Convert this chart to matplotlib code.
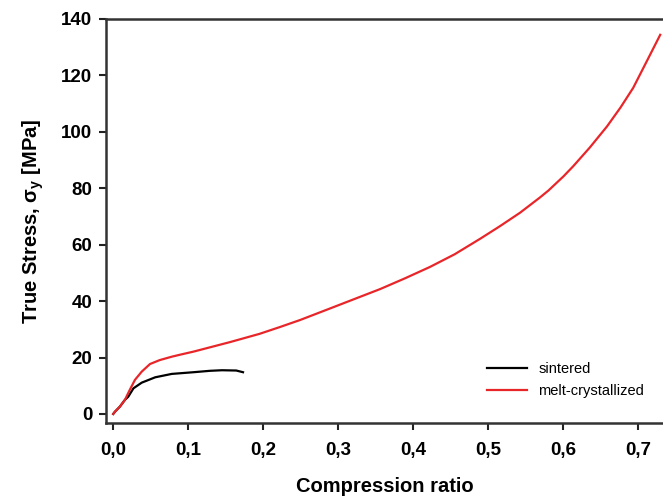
import matplotlib
matplotlib.use("Agg")
import matplotlib.pyplot as plt

plt.rcParams['font.family'] = ['Liberation Sans', 'DejaVu Sans']

# melt-crystallized (red), values
red_x = [0.0, 0.0023, 0.0089, 0.0156, 0.022, 0.029, 0.038, 0.049, 0.062, 0.078,
         0.089, 0.107, 0.156, 0.195, 0.222, 0.249, 0.289, 0.322, 0.356, 0.389,
         0.422, 0.455, 0.489, 0.515, 0.542, 0.569, 0.58, 0.6, 0.613, 0.635,
         0.658, 0.676, 0.693, 0.716, 0.729]
red_y = [0.0, 0.8, 2.6, 5.0, 8.5, 12.1, 15.0, 17.7, 19.1, 20.3,
         21.0, 22.1, 25.5, 28.4, 30.8, 33.3, 37.4, 40.8, 44.3, 48.1,
         52.1, 56.6, 62.1, 66.5, 71.3, 76.8, 79.2, 84.2, 87.8, 94.4,
         101.9, 108.6, 115.6, 127.6, 134.4]

# sintered (black)
blk_x = [0.0, 0.0023, 0.0089, 0.0156, 0.020, 0.027, 0.038, 0.056, 0.078, 0.107,
         0.129, 0.145, 0.164, 0.173]
blk_y = [0.0, 0.8, 2.6, 5.0, 6.1, 9.1, 11.1, 13.0, 14.2, 14.8,
         15.3, 15.5, 15.4, 14.8]

xticks = [0.0, 0.1, 0.2, 0.3, 0.4, 0.5, 0.6, 0.7]
xlabels = ['0,0', '0,1', '0,2', '0,3', '0,4', '0,5', '0,6', '0,7']
yticks = [0, 20, 40, 60, 80, 100, 120, 140]

fig = plt.figure(figsize=(6.63, 5.0), dpi=100)
ax = fig.add_axes([0.160, 0.154, 0.840, 0.808])

ax.plot(blk_x, blk_y, color='black', lw=1.6, label='sintered')
ax.plot(red_x, red_y, color='#e8262a', lw=1.6, label='melt-crystallized')

ax.set_xlim(-0.0095, 0.7327)
ax.set_ylim(-3.2, 140)
ax.set_xticks(xticks)
ax.set_xticklabels(xlabels)
ax.set_yticks(yticks)

for lab in ax.get_xticklabels() + ax.get_yticklabels():
    lab.set_fontweight('bold')
    lab.set_fontsize(13.5)

ax.tick_params(direction='out', length=5, width=1.5, color='#222222', pad=5)
ax.tick_params(axis='x', pad=9)
ax.spines['right'].set_visible(False)
for s in ['left', 'bottom', 'top']:
    ax.spines[s].set_linewidth(1.8)
    ax.spines[s].set_color('#333333')

ax.set_xlabel('Compression ratio', fontsize=14.5, fontweight='bold', labelpad=13)
ax.set_ylabel('True Stress, σ$_\\mathregular{y}$ [MPa]', fontsize=14.5,
              fontweight='bold', labelpad=11)

ax.legend(loc='lower right', bbox_to_anchor=(0.99, 0.03), frameon=False,
          fontsize=10.5, handlelength=2.7, labelspacing=0.5)

fig.savefig('out.png', dpi=100)
